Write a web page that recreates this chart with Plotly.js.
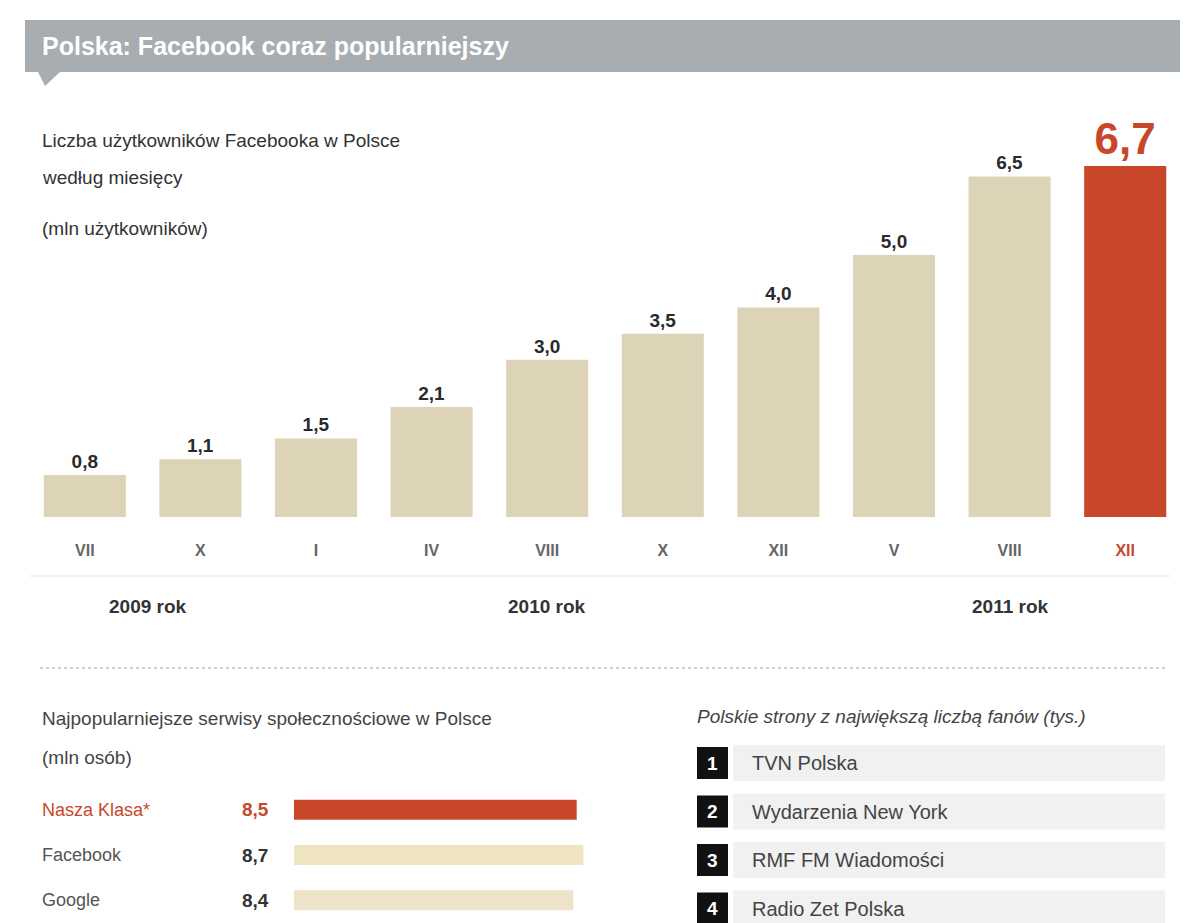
<!DOCTYPE html>
<html>
<head>
<meta charset="utf-8">
<script src="https://cdn.plot.ly/plotly-3.0.1.min.js"></script>
<style>
  html, body { margin: 0; padding: 0; background: #fff; }
  #chart { width: 1200px; height: 923px; }
</style>
</head>
<body>
<div id="chart"></div>
<script>
// main chart
const months = ["VII", "X", "I", "IV", "VIII", "X", "XII", "V", "VIII", "XII"];
const users = [0.8, 1.1, 1.5, 2.1, 3.0, 3.5, 4.0, 5.0, 6.5, 6.7];
const years = ["2009 rok", "2010 rok", "2011 rok"];
const yearAt = [0.55, 4, 8];

// bottom left
const portals = ["Nasza Klasa*", "Facebook", "Google"];
const portalUsers = [8.5, 8.7, 8.4];

// bottom right
const pages = ["TVN Polska", "Wydarzenia New York", "RMF FM Wiadomości", "Radio Zet Polska"];
const pageRank = [1, 2, 3, 4];

const W = 1200, H = 923;
const px = (v) => v / W;
const py = (v) => 1 - v / H;

const font = "Liberation Sans, Arial, sans-serif";
const beige = "#ddd3b7";
const red = "#c8472b";
const last = users.length - 1;
const comma = (v) => v.toFixed(1).replace(".", ",");
const idx = users.map((_, i) => i);

const mainBars = {
  type: "bar",
  x: idx,
  y: users,
  width: 0.71,
  marker: {
    color: users.map((_, i) => (i === last ? red : beige)),
    line: { width: 0 },
  },
  text: users.map(comma),
  textposition: "outside",
  cliponaxis: false,
  textfont: {
    family: font,
    weight: "bold",
    size: users.map((_, i) => (i === last ? 44 : 19)),
    color: users.map((_, i) => (i === last ? red : "#2a2a2a")),
  },
  hoverinfo: "skip",
};

const portalBars = {
  type: "bar",
  orientation: "h",
  x: portalUsers,
  y: portals.map((_, i) => i),
  xaxis: "x2",
  yaxis: "y2",
  width: 0.44,
  marker: { color: [red, "#efe5c2", "#eee3c9"], line: { width: 0 } },
  hoverinfo: "skip",
};

const annotations = [];
const shapes = [];

// title bar
shapes.push({
  type: "rect", xref: "paper", yref: "paper",
  x0: px(25), x1: px(1180), y0: py(72), y1: py(20),
  fillcolor: "#a8adb1", line: { width: 0 }, layer: "below",
});
shapes.push({
  type: "path", xref: "paper", yref: "paper",
  path: `M ${px(38)},${py(72)} L ${px(60)},${py(72)} L ${px(45)},${py(86)} Z`,
  fillcolor: "#a8adb1", line: { width: 0 },
});
annotations.push({
  xref: "paper", yref: "paper", x: px(40), y: py(46),
  xanchor: "left", yanchor: "middle", showarrow: false,
  text: "<b>Polska: Facebook coraz popularniejszy</b>",
  font: { family: font, size: 25, color: "#fff" },
});

// subtitle
const sub = ["Liczba użytkowników Facebooka w Polsce", "według miesięcy", "(mln użytkowników)"];
const subY = [140, 177, 228];
sub.forEach((t, i) => annotations.push({
  xref: "paper", yref: "paper", x: px(40), y: py(subY[i]),
  xanchor: "left", yanchor: "middle", showarrow: false, text: t,
  font: { family: font, size: 19, color: "#333" },
}));

// year labels
years.forEach((t, i) => annotations.push({
  xref: "x", yref: "paper", x: yearAt[i], y: py(606),
  xanchor: "center", yanchor: "middle", showarrow: false, text: "<b>" + t + "</b>",
  font: { family: font, size: 19, color: "#333" },
}));

// separators
shapes.push({
  type: "line", xref: "paper", yref: "paper",
  x0: px(30), x1: px(1170), y0: py(576), y1: py(576),
  line: { color: "#e2e2e2", width: 1 },
});
shapes.push({
  type: "line", xref: "paper", yref: "paper",
  x0: px(40), x1: px(1165), y0: py(668), y1: py(668),
  line: { color: "#cfcfcf", width: 2, dash: "dot" },
});

// bottom left heading + rows
annotations.push({
  xref: "paper", yref: "paper", x: px(40), y: py(718),
  xanchor: "left", yanchor: "middle", showarrow: false,
  text: "Najpopularniejsze serwisy społecznościowe w Polsce",
  font: { family: font, size: 19, color: "#444" },
});
annotations.push({
  xref: "paper", yref: "paper", x: px(40), y: py(757),
  xanchor: "left", yanchor: "middle", showarrow: false,
  text: "(mln osób)",
  font: { family: font, size: 19, color: "#444" },
});
portals.forEach((p, i) => {
  const c = i === 0 ? red : "#555";
  annotations.push({
    xref: "paper", yref: "y2", x: px(40), y: i,
    xanchor: "left", yanchor: "middle", showarrow: false, text: p,
    font: { family: font, size: 18, color: c },
  });
  annotations.push({
    xref: "paper", yref: "y2", x: px(240), y: i,
    xanchor: "left", yanchor: "middle", showarrow: false,
    text: "<b>" + comma(portalUsers[i]) + "</b>",
    font: { family: font, size: 19, color: i === 0 ? red : "#333" },
  });
});

// bottom right list
annotations.push({
  xref: "paper", yref: "paper", x: px(695), y: py(716),
  xanchor: "left", yanchor: "middle", showarrow: false,
  text: "<i>Polskie strony z największą liczbą fanów (tys.)</i>",
  font: { family: font, size: 19, color: "#444" },
});
pages.forEach((p, i) => {
  const c = 763 + i * 48.5;
  shapes.push({
    type: "rect", xref: "paper", yref: "paper",
    x0: px(733), x1: px(1165), y0: py(c + 18), y1: py(c - 18),
    fillcolor: "#f1f1f1", line: { width: 0 }, layer: "below",
  });
  shapes.push({
    type: "rect", xref: "paper", yref: "paper",
    x0: px(697), x1: px(728), y0: py(c + 16), y1: py(c - 16),
    fillcolor: "#111", line: { width: 0 },
  });
  annotations.push({
    xref: "paper", yref: "paper", x: px(712.5), y: py(c),
    xanchor: "center", yanchor: "middle", showarrow: false,
    text: "<b>" + pageRank[i] + "</b>",
    font: { family: font, size: 19, color: "#fff" },
  });
  annotations.push({
    xref: "paper", yref: "paper", x: px(750), y: py(c),
    xanchor: "left", yanchor: "middle", showarrow: false, text: p,
    font: { family: font, size: 20, color: "#444" },
  });
});

const tickText = months.map((m, i) =>
  i === last ? `<span style="color:${red}">${m}</span>` : m);

const layout = {
  width: W,
  height: H,
  margin: { t: 0, l: 0, r: 0, b: 0 },
  paper_bgcolor: "#fff",
  plot_bgcolor: "rgba(0,0,0,0)",
  showlegend: false,
  font: { family: font },
  xaxis: {
    domain: [px(27), px(1183)],
    range: [-0.5, 9.5],
    tickvals: idx,
    ticktext: tickText,
    tickfont: { family: font, size: 16, color: "#666", weight: "bold" },
    ticks: "",
    ticklabelstandoff: 22,
    showgrid: false,
    zeroline: false,
    showline: false,
    fixedrange: true,
  },
  yaxis: {
    domain: [py(517), py(100)],
    range: [0, 7.96],
    visible: false,
    fixedrange: true,
  },
  xaxis2: {
    domain: [px(294), px(585)],
    range: [0, 8.75],
    anchor: "y2",
    visible: false,
    fixedrange: true,
  },
  yaxis2: {
    domain: [0, py(787)],
    range: [2.5, -0.5],
    anchor: "x2",
    visible: false,
    fixedrange: true,
  },
  shapes: shapes,
  annotations: annotations,
  dragmode: false,
};

Plotly.newPlot("chart", [mainBars, portalBars], layout, { displayModeBar: false, staticPlot: true });
</script>
</body>
</html>
